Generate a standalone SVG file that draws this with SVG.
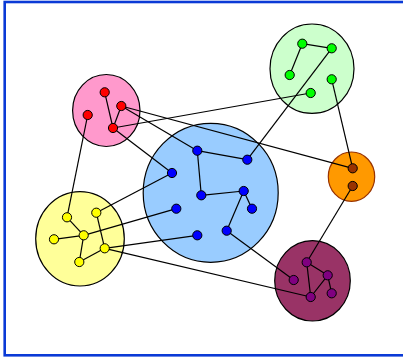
<svg xmlns="http://www.w3.org/2000/svg" width="403" height="358" viewBox="0 0 403 358">
<style>
.frame{fill:#fff;stroke:#0a3ad6;stroke-width:2.6}
.cl{stroke:#000;stroke-width:1.2}
.e{stroke:#000;stroke-width:1.2;fill:none}
.n{stroke:#000;stroke-width:1;}
.red{fill:#ff0000}.grn{fill:#00ff00}.blu{fill:#0000ff}.brn{fill:#993300}.yel{fill:#ffff00}.pur{fill:#800080}
</style>
<rect class="frame" x="4.7" y="2" width="420" height="353.3"/>
<g id="clusters">
<ellipse id="c-pink" class="cl" cx="106.3" cy="110.5" rx="33.7" ry="36" fill="#ff99cc"/>
<ellipse id="c-green" class="cl" cx="312" cy="68.7" rx="42" ry="44.7" fill="#ccffcc"/>
<ellipse id="c-blue" class="cl" cx="210.7" cy="192.8" rx="67.5" ry="69.5" fill="#99ccff"/>
<ellipse id="c-orange" class="cl" cx="351.5" cy="176.7" rx="23.2" ry="24.7" fill="#ff9900" stroke="#993300" style="stroke:#993300"/>
<ellipse id="c-yellow" class="cl" cx="80" cy="238.8" rx="44.3" ry="47.2" fill="#ffff99"/>
<ellipse id="c-purple" class="cl" cx="312.5" cy="280.8" rx="37.8" ry="40.2" fill="#993366"/>
</g>
<g id="connectors">
<line class="e" x1="104.7" y1="92.3" x2="113" y2="128"/>
<line class="e" x1="121.3" y1="106" x2="113" y2="128"/>
<line class="e" x1="121.3" y1="106" x2="197.3" y2="150.7"/>
<line class="e" x1="121.3" y1="106" x2="352.7" y2="168.3"/>
<line class="e" x1="113" y1="128" x2="310.7" y2="93"/>
<line class="e" x1="113" y1="128" x2="172" y2="173"/>
<line class="e" x1="87.7" y1="115" x2="67" y2="217.3"/>
<line class="e" x1="302.3" y1="43.7" x2="331.7" y2="48.3"/>
<line class="e" x1="302.3" y1="43.7" x2="289.7" y2="75"/>
<line class="e" x1="331.7" y1="48.3" x2="247.3" y2="159.7"/>
<line class="e" x1="331.7" y1="79.3" x2="352.7" y2="168.3"/>
<line class="e" x1="197.3" y1="150.7" x2="247.3" y2="159.7"/>
<line class="e" x1="197.3" y1="150.7" x2="201.3" y2="195.3"/>
<line class="e" x1="201.3" y1="195.3" x2="243.7" y2="191"/>
<line class="e" x1="243.7" y1="191" x2="252" y2="208.7"/>
<line class="e" x1="243.7" y1="191" x2="226.7" y2="230.7"/>
<line class="e" x1="226.7" y1="230.7" x2="293.7" y2="280"/>
<line class="e" x1="172" y1="173" x2="96.3" y2="212.7"/>
<line class="e" x1="176.3" y1="208.7" x2="83.7" y2="235.3"/>
<line class="e" x1="197.3" y1="235.3" x2="104.7" y2="248.3"/>
<line class="e" x1="67" y1="217.3" x2="83.7" y2="235.3"/>
<line class="e" x1="54" y1="239.3" x2="83.7" y2="235.3"/>
<line class="e" x1="83.7" y1="235.3" x2="79.3" y2="262"/>
<line class="e" x1="96.3" y1="212.7" x2="104.7" y2="248.3"/>
<line class="e" x1="79.3" y1="262" x2="104.7" y2="248.3"/>
<line class="e" x1="104.7" y1="248.3" x2="310.7" y2="297"/>
<line class="e" x1="306.7" y1="262.3" x2="327.7" y2="275.3"/>
<line class="e" x1="306.7" y1="262.3" x2="310.7" y2="297"/>
<line class="e" x1="327.7" y1="275.3" x2="310.7" y2="297"/>
<line class="e" x1="327.7" y1="275.3" x2="331.7" y2="293.3"/>
<line class="e" x1="306.7" y1="262.3" x2="352.7" y2="186"/>
</g>
<g id="nodes-red">
<circle id="r1" class="n red" cx="104.7" cy="92.3" r="4.6"/>
<circle id="r2" class="n red" cx="121.3" cy="106" r="4.6"/>
<circle id="r3" class="n red" cx="87.7" cy="115" r="4.6"/>
<circle id="r4" class="n red" cx="113" cy="128" r="4.6"/>
</g>
<g id="nodes-green">
<circle id="g1" class="n grn" cx="302.3" cy="43.7" r="4.6"/>
<circle id="g2" class="n grn" cx="331.7" cy="48.3" r="4.6"/>
<circle id="g3" class="n grn" cx="289.7" cy="75" r="4.6"/>
<circle id="g4" class="n grn" cx="331.7" cy="79.3" r="4.6"/>
<circle id="g5" class="n grn" cx="310.7" cy="93" r="4.6"/>
</g>
<g id="nodes-blue">
<circle id="b1" class="n blu" cx="197.3" cy="150.7" r="4.6"/>
<circle id="b2" class="n blu" cx="247.3" cy="159.7" r="4.6"/>
<circle id="b3" class="n blu" cx="172" cy="173" r="4.6"/>
<circle id="b4" class="n blu" cx="201.3" cy="195.3" r="4.6"/>
<circle id="b5" class="n blu" cx="243.7" cy="191" r="4.6"/>
<circle id="b6" class="n blu" cx="252" cy="208.7" r="4.6"/>
<circle id="b7" class="n blu" cx="176.3" cy="208.7" r="4.6"/>
<circle id="b8" class="n blu" cx="226.7" cy="230.7" r="4.6"/>
<circle id="b9" class="n blu" cx="197.3" cy="235.3" r="4.6"/>
</g>
<g id="nodes-brown">
<circle id="o1" class="n brn" cx="352.7" cy="168.3" r="4.6"/>
<circle id="o2" class="n brn" cx="352.7" cy="186" r="4.6"/>
</g>
<g id="nodes-yellow">
<circle id="y1" class="n yel" cx="67" cy="217.3" r="4.6"/>
<circle id="y2" class="n yel" cx="96.3" cy="212.7" r="4.6"/>
<circle id="y3" class="n yel" cx="54" cy="239.3" r="4.6"/>
<circle id="y4" class="n yel" cx="83.7" cy="235.3" r="4.6"/>
<circle id="y5" class="n yel" cx="104.7" cy="248.3" r="4.6"/>
<circle id="y6" class="n yel" cx="79.3" cy="262" r="4.6"/>
</g>
<g id="nodes-purple">
<circle id="p1" class="n pur" cx="306.7" cy="262.3" r="4.6"/>
<circle id="p2" class="n pur" cx="327.7" cy="275.3" r="4.6"/>
<circle id="p3" class="n pur" cx="293.7" cy="280" r="4.6"/>
<circle id="p4" class="n pur" cx="331.7" cy="293.3" r="4.6"/>
<circle id="p5" class="n pur" cx="310.7" cy="297" r="4.6"/>
</g>
</svg>
